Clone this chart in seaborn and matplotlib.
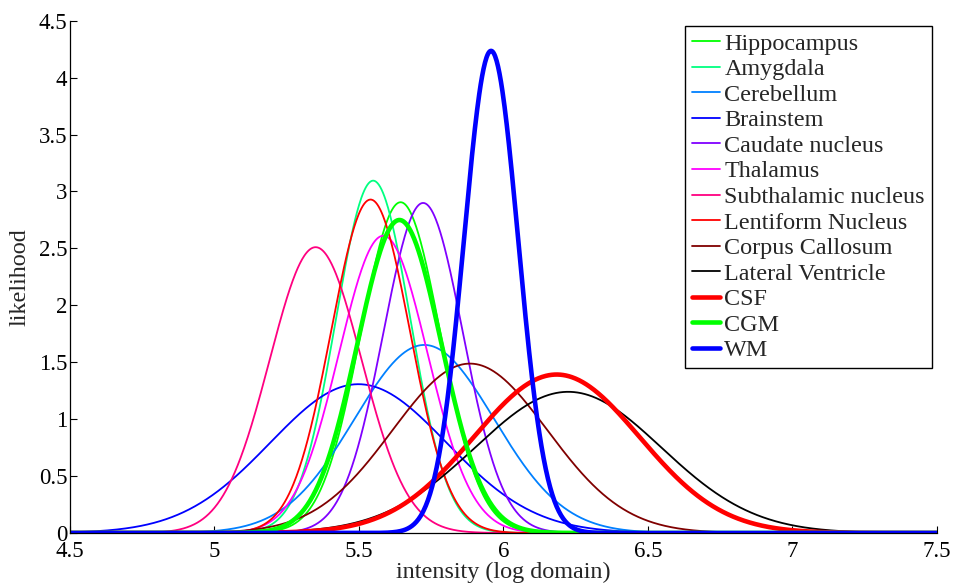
import numpy as np
import pandas as pd
import matplotlib
matplotlib.use('Agg')
import matplotlib.pyplot as plt
import seaborn as sns

# Gaussian likelihood models per structure (log-intensity mean / std)
structures = ['Hippocampus', 'Amygdala', 'Cerebellum', 'Brainstem', 'Caudate nucleus',
              'Thalamus', 'Subthalamic nucleus', 'Lentiform Nucleus', 'Corpus Callosum',
              'Lateral Ventricle', 'CSF', 'CGM', 'WM']
means = [5.644, 5.549, 5.726, 5.498, 5.722, 5.584, 5.350, 5.540, 5.884, 6.224, 6.184, 5.640, 5.957]
stds = [0.1373, 0.1289, 0.2415, 0.3052, 0.1376, 0.1528, 0.1589, 0.1362, 0.2681, 0.3217, 0.2866, 0.1451, 0.0942]
colors = ['#00ff00', '#00ff80', '#0080ff', '#0000ff', '#8000ff', '#ff00ff', '#ff0080',
          '#ff0000', '#800000', '#000000', '#ff0000', '#00ff00', '#0000ff']
thick = ['CSF', 'CGM', 'WM']

x = np.linspace(4.5, 7.5, 1200)
rows = []
for name, mu, sd in zip(structures, means, stds):
    y = np.exp(-0.5 * ((x - mu) / sd) ** 2) / (sd * np.sqrt(2 * np.pi))
    rows.append(pd.DataFrame({'intensity': x, 'likelihood': y, 'structure': name}))
df = pd.concat(rows, ignore_index=True)

sns.set_theme(style='ticks')
plt.rcParams['font.family'] = ['Liberation Serif', 'DejaVu Serif']

fig = plt.figure(figsize=(9.56, 5.85), dpi=100)
ax = fig.add_axes([0.0732, 0.0889, 0.9069, 0.8757])

for name, c in zip(structures, colors):
    lw = 3.3 if name in thick else 1.3
    sns.lineplot(data=df[df['structure'] == name], x='intensity', y='likelihood',
                 color=c, linewidth=lw, label=name, ax=ax, estimator=None, sort=False)

ax.set_xlim(4.5, 7.5)
ax.set_ylim(0, 4.5)
ax.set_xticks(np.arange(4.5, 7.51, 0.5))
ax.set_yticks(np.arange(0, 4.51, 0.5))
ax.set_xticklabels(['4.5', '5', '5.5', '6', '6.5', '7', '7.5'])
ax.set_yticklabels(['0', '0.5', '1', '1.5', '2', '2.5', '3', '3.5', '4', '4.5'])
ax.tick_params(direction='in', length=5, width=0.8, labelsize=16.5, colors='black')
ax.tick_params(axis='x', pad=5.5)
ax.tick_params(axis='y', pad=2)
for side in ['top', 'right']:
    ax.spines[side].set_visible(False)
for side in ['left', 'bottom']:
    ax.spines[side].set_color('black')
    ax.spines[side].set_linewidth(0.9)

ax.set_xlabel('intensity (log domain)', fontsize=17.4, labelpad=0)
ax.set_ylabel('likelihood', fontsize=17.4, labelpad=6)

leg = ax.legend(loc='upper right', bbox_to_anchor=(1.0, 1.0), fontsize=17.4, frameon=True,
                fancybox=False, edgecolor='black', framealpha=1, handlelength=1.16,
                handletextpad=0.17, labelspacing=0.15, borderpad=0.3, borderaxespad=0.2)
leg.get_frame().set_linewidth(1.0)

plt.savefig('out.png', dpi=100)
plt.close()
